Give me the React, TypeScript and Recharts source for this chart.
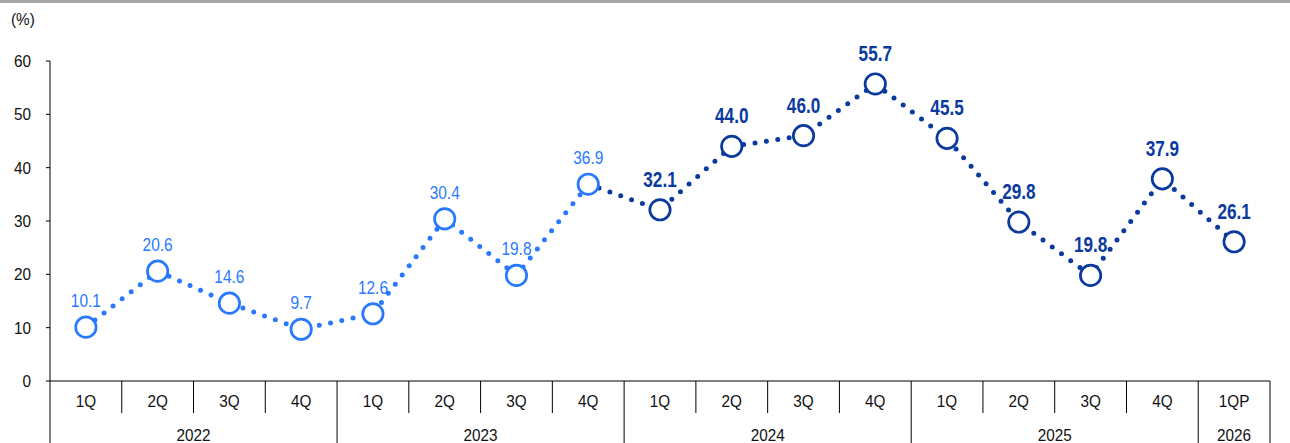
import React from 'react';
import { LineChart, Line, XAxis, YAxis } from 'recharts';

const quarters = ['1Q', '2Q', '3Q', '4Q', '1Q', '2Q', '3Q', '4Q', '1Q', '2Q', '3Q', '4Q', '1Q', '2Q', '3Q', '4Q', '1QP'];
const yearNames = ['2022', '2023', '2024', '2025', '2026'];
const yearLengths = [4, 4, 4, 4, 1];
const lightValues = [10.1, 20.6, 14.6, 9.7, 12.6, 30.4, 19.8, 36.9, null, null, null, null, null, null, null, null, null];
const darkValues = [null, null, null, null, null, null, null, 36.9, 32.1, 44.0, 46.0, 55.7, 45.5, 29.8, 19.8, 37.9, 26.1];
const yTicks = [0, 10, 20, 30, 40, 50, 60];

const LIGHT = '#2979FF';
const DARK = '#0A3A9E';
const FONT = '"Liberation Sans", Arial, sans-serif';

const W = 1290;
const H = 443;
const M = { top: 61, right: 20, bottom: 0, left: 0 };
const Y_W = 50;
const X_H = 62;
const N = quarters.length;
const BAND = (W - M.left - M.right - Y_W) / N;

const data = quarters.map((q, i) => ({ q, light: lightValues[i], dark: darkValues[i] }));

const yearStarts: number[] = [];
{
  let s = 0;
  yearLengths.forEach((l) => { yearStarts.push(s); s += l; });
}

// narrow text helper (reference uses a condensed face)
const NText = ({ x, y, children, size = 16, weight = 400, color = '#111', sx = 0.9, anchor = 'middle' }: any) => (
  <text transform={`translate(${x},${y}) scale(${sx},1)`} x={0} y={0} textAnchor={anchor}
    fontSize={size} fontWeight={weight} fontFamily={FONT} fill={color}>{children}</text>
);

const QuarterTick = (props: any) => {
  const { x, y, payload, index } = props;
  const half = BAND / 2;
  const left = x - half;
  const right = x + half;
  const yi = yearStarts.indexOf(index);
  const els: any[] = [];
  els.push(
    <line key="l" x1={left} x2={left} y1={y} y2={yi >= 0 ? H : y + 32} stroke="#000" strokeWidth={1} />
  );
  if (index === N - 1) {
    els.push(<line key="r" x1={right} x2={right} y1={y} y2={H} stroke="#000" strokeWidth={1} />);
  }
  els.push(<NText key="t" x={x} y={y + 26} size={17}>{payload.value}</NText>);
  if (yi >= 0) {
    const cx = left + (yearLengths[yi] * BAND) / 2;
    els.push(<NText key="y" x={cx} y={y + 60} size={17}>{yearNames[yi]}</NText>);
  }
  return <g>{els}</g>;
};

const YTick = (props: any) => {
  const { x, y, payload } = props;
  return <NText x={x} y={y + 6} size={17} anchor="end">{payload.value}</NText>;
};

const makeDot = (color: string, skip: number[]) => (props: any) => {
  const { cx, cy, index, value } = props;
  if (value == null || skip.includes(index) || cx == null || cy == null) return <g key={`d${index}`} />;
  return <circle key={`d${index}`} cx={cx} cy={cy} r={10.2} fill="#fff" stroke={color} strokeWidth={2.7} />;
};

const makeLabel = (color: string, bold: boolean, skip: number[]) => (props: any) => {
  const { x, y, index, value } = props;
  if (value == null || skip.includes(index)) return <g key={`l${index}`} />;
  return (
    <g key={`l${index}`}>
      <NText x={x} y={bold ? y - 23 : y - 20} size={bold ? 22 : 18} weight={bold ? 700 : 400}
        color={color} sx={bold ? 0.78 : 0.86}>
        {Number(value).toFixed(1)}
      </NText>
    </g>
  );
};

export default function App() {
  return (
    <div style={{ position: 'fixed', left: 0, top: 0, width: W, height: H, background: '#fff' }}>
      <svg width={W} height={H} style={{ position: 'absolute', left: 0, top: 0 }}>
        <rect x={0} y={0} width={W} height={3} fill="#A6A6A6" />
        <NText x={11} y={25} size={17} anchor="start">(%)</NText>
      </svg>
      <div style={{ position: 'absolute', left: 0, top: 0 }}>
        <LineChart width={W} height={H} data={data} margin={M}>
          <XAxis dataKey="q" interval={0} height={X_H} tickLine={false} tickSize={0} tickMargin={0}
            padding={{ left: BAND / 2, right: BAND / 2 }}
            axisLine={{ stroke: '#000' }} tick={<QuarterTick />} />
          <YAxis domain={[0, 60]} ticks={yTicks} width={Y_W} tickSize={4} tickMargin={15}
            axisLine={{ stroke: '#000' }} tickLine={{ stroke: '#000' }}
            tick={<YTick />} interval={0} />
          <Line dataKey="dark" stroke={DARK} strokeWidth={5} strokeDasharray="0 11.5" strokeLinecap="round"
            isAnimationActive={false} connectNulls={false} dot={makeDot(DARK, [7])} activeDot={false}
            label={makeLabel(DARK, true, [7])} />
          <Line dataKey="light" stroke={LIGHT} strokeWidth={5} strokeDasharray="0 11.5" strokeLinecap="round"
            isAnimationActive={false} connectNulls={false} dot={makeDot(LIGHT, [])} activeDot={false}
            label={makeLabel(LIGHT, false, [])} />
        </LineChart>
      </div>
    </div>
  );
}
